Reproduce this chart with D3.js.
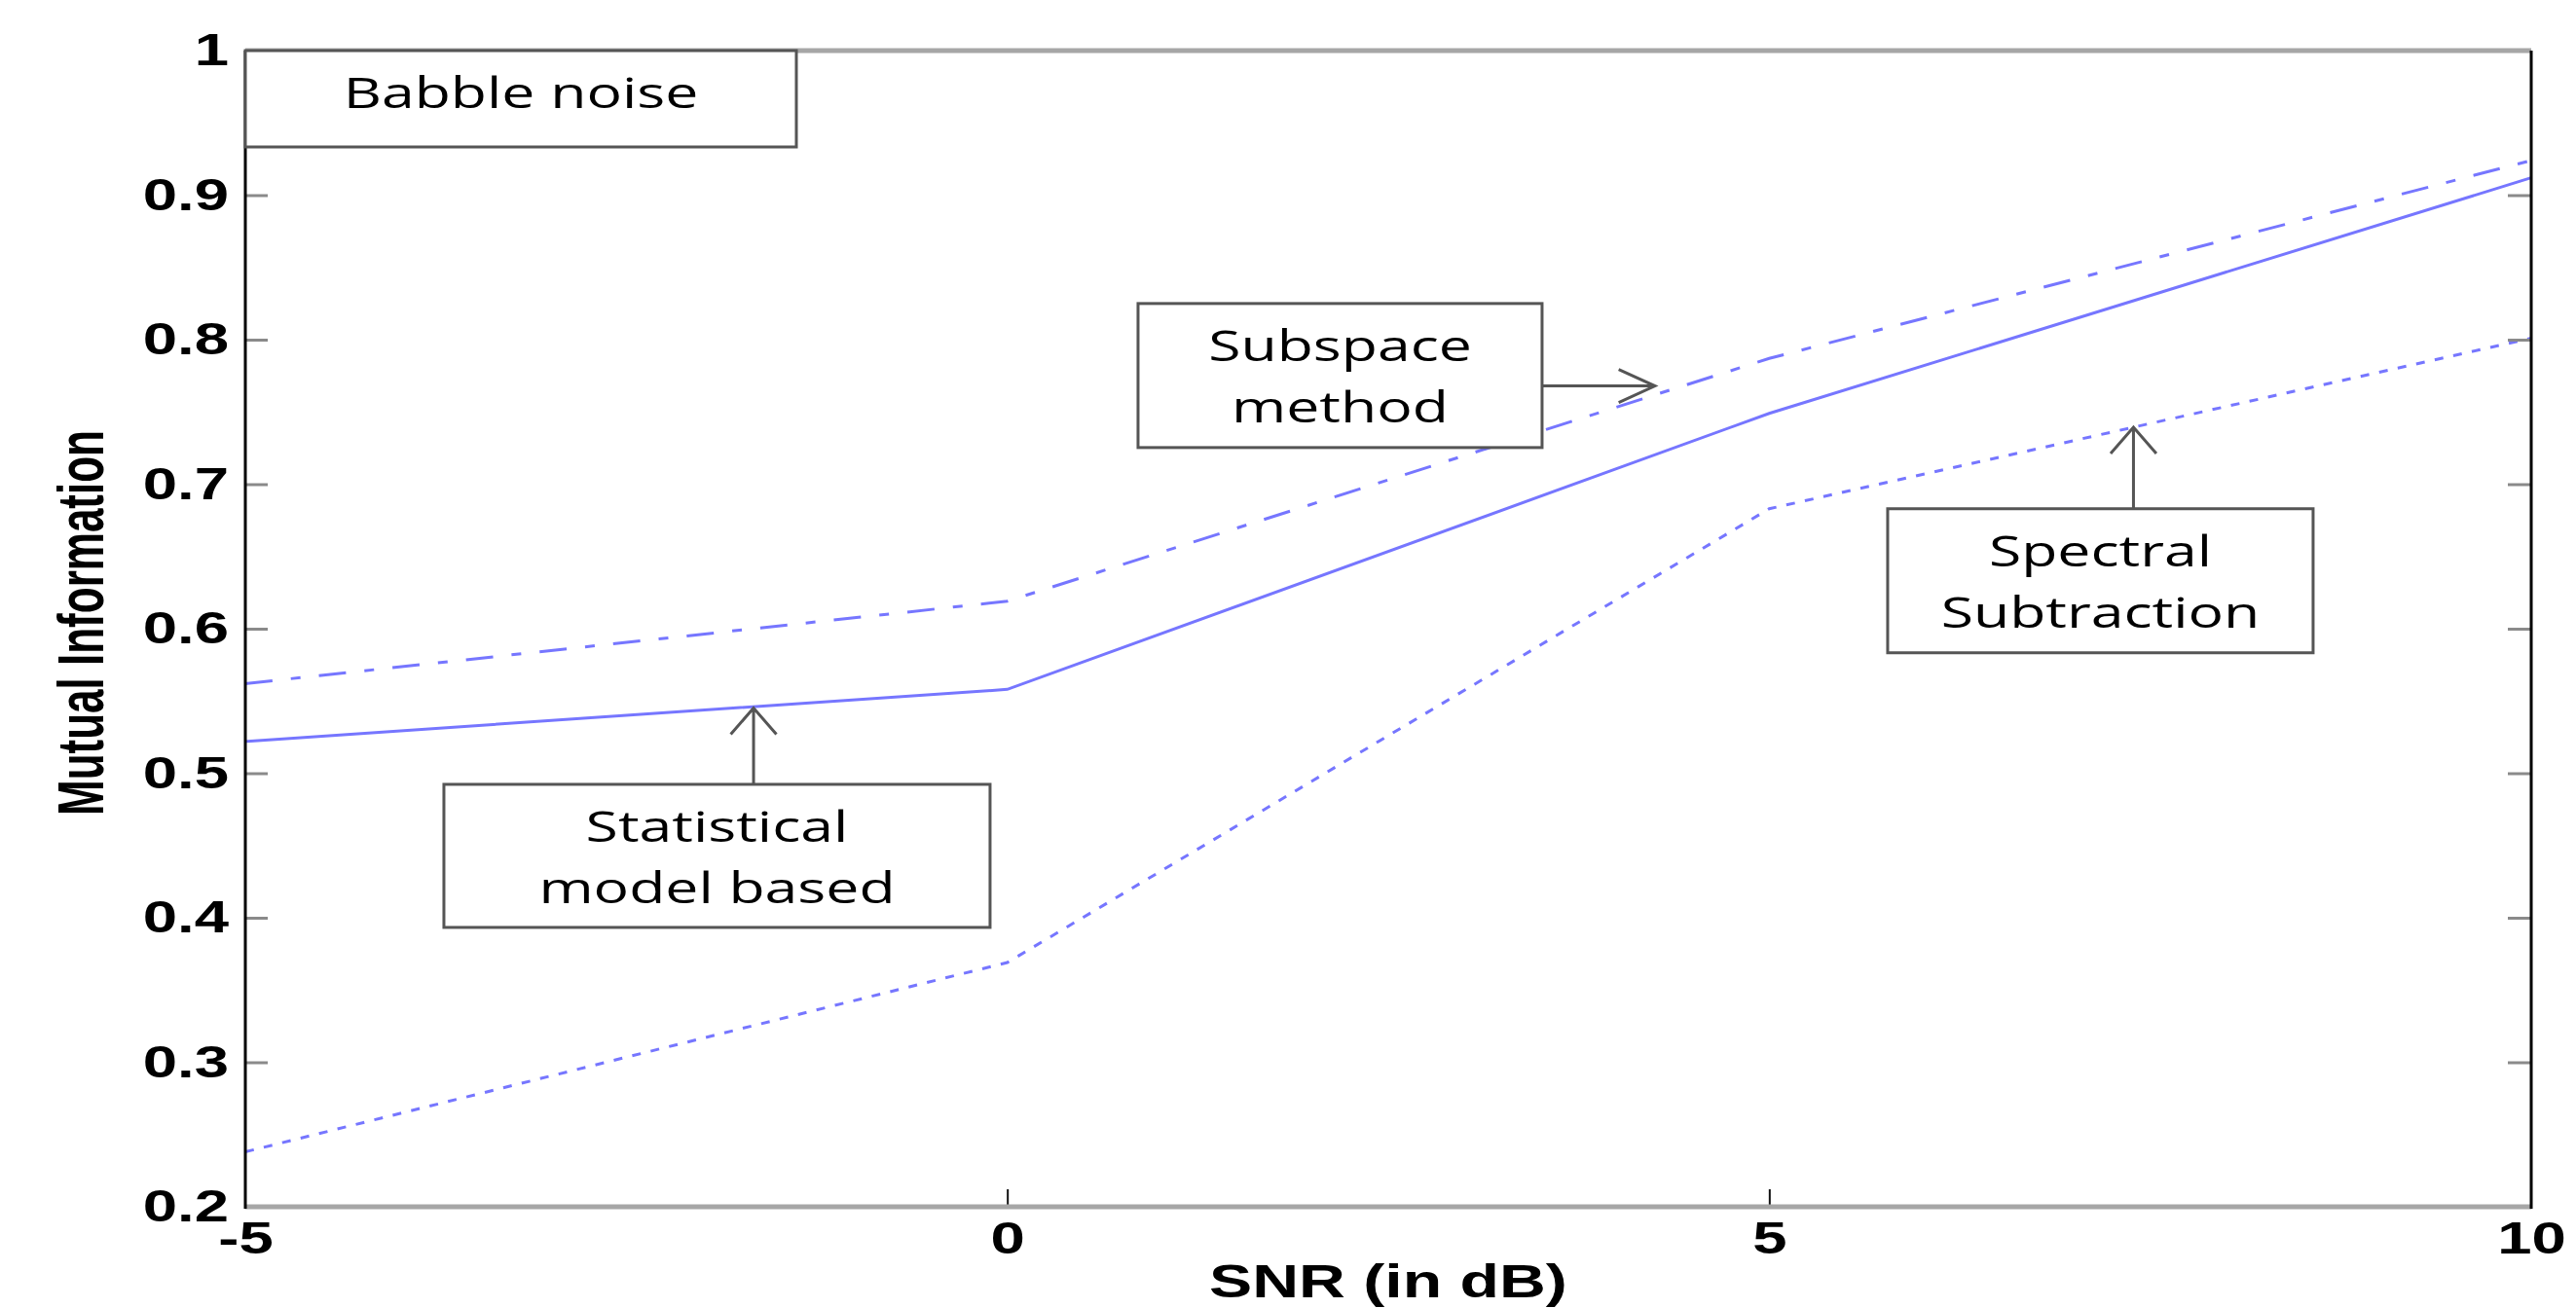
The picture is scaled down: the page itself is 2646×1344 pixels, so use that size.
<!DOCTYPE html>
<html>
<head>
<meta charset="utf-8">
<script src="https://cdn.jsdelivr.net/npm/d3@7"></script>
<style>
    html, body { margin: 0; padding: 0; background: #fff; }
    svg { display: block; }
</style>
</head>
<body>
<svg id="chart"></svg>
<script>
const width = 2646
const height = 1344

// values, one per snr step
const snr = [-5, 0, 5, 10]
const statistical = [0.522, 0.558, 0.749, 0.912]
const subspace = [0.562, 0.619, 0.787, 0.924]
const spectral = [0.238, 0.369, 0.683, 0.801]

const xTicks = [-5, 0, 5, 10]
const yTicks = [0.2, 0.3, 0.4, 0.5, 0.6, 0.7, 0.8, 0.9, 1]

const xTitle = "SNR (in dB)"
const yTitle = "Mutual Information"
const noiseLabel = ["Babble noise"]
const statisticalLabel = ["Statistical", "model based"]
const subspaceLabel = ["Subspace", "method"]
const spectralLabel = ["Spectral", "Subtraction"]

createChart()

function createChart() {

    //the source picture is stretched sideways, so all text gets widened by this
    const stretch = 1.38
    const margin = {top: 52, right: 46, bottom: 104, left: 252}
    const tickFont = "bold 46px 'Liberation Sans', Arial, sans-serif"
    const noteFont = "44px 'Open Sans', 'Noto Sans', sans-serif"
    const lineColour = "#7676ff"

    const x = d3.scaleLinear()
        .domain([-5, 10])
        .range([margin.left, width - margin.right])

    const y = d3.scaleLinear()
        .domain([0.2, 1])
        .range([height - margin.bottom, margin.top])

    const [x0, x1] = x.range()
    const [y0, y1] = y.range()

    const svg = d3.select('#chart')
        .attr("width", width)
        .attr("height", height)
        .attr("viewBox", [0, 0, width, height])

    svg.append("rect")
        .attr("width", width)
        .attr("height", height)
        .attr("fill", "#fff")

    let series = [
        {name: "statistical", values: statistical, dash: null},
        {name: "subspace", values: subspace, dash: "28,19,10,19"},
        {name: "spectral", values: spectral, dash: "9,10.5"}
    ]

    const line = d3.line()
        .x(d => x(d[0]))
        .y(d => y(d[1]))

    svg.append("g")
        .attr("class", "lines")
        .selectAll("path")
        .data(series)
        .join("path")
        .attr("d", s => line(snr.map((v, i) => [v, s.values[i]])))
        .attr("fill", "none")
        .attr("stroke", lineColour)
        .attr("stroke-width", 3)
        .attr("stroke-dasharray", s => s.dash)

    // inner tick marks, left / right / bottom
    let leftTicks = svg.append("g")
        .attr("transform", `translate(${x0}, 0)`)
        .call(d3.axisLeft(y).tickValues(yTicks.slice(1, -1)).tickSize(-23).tickFormat(""))
    let rightTicks = svg.append("g")
        .attr("transform", `translate(${x1}, 0)`)
        .call(d3.axisRight(y).tickValues(yTicks.slice(1, -1)).tickSize(-24).tickFormat(""))
    let bottomTicks = svg.append("g")
        .attr("transform", `translate(0, ${y0})`)
        .call(d3.axisBottom(x).tickValues(xTicks.slice(1, -1)).tickSize(-18).tickFormat(""))

    ;[leftTicks, rightTicks, bottomTicks].forEach(g => g.select(".domain").remove())
    leftTicks.selectAll("line").attr("stroke", "#8a8a8a").attr("stroke-width", 3)
    rightTicks.selectAll("line").attr("stroke", "#8a8a8a").attr("stroke-width", 3)
    bottomTicks.selectAll("line").attr("stroke", "#111").attr("stroke-width", 2)

    // tick labels
    let yAxis = svg.append("g")
        .attr("transform", `translate(${x0}, 0)`)
        .call(d3.axisLeft(y).tickValues(yTicks).tickSize(0)
            .tickFormat(d => d === 1 ? "1" : d.toFixed(1)))
    yAxis.select(".domain").remove()
    yAxis.selectAll("text")
        .attr("x", 0)
        .attr("transform", `translate(-17, 0) scale(${stretch}, 1)`)
        .attr("fill", "#000")
        .style("font", tickFont)

    let xAxis = svg.append("g")
        .attr("transform", `translate(0, ${y0})`)
        .call(d3.axisBottom(x).tickValues(xTicks).tickSize(0).tickFormat(d => String(d)))
    xAxis.select(".domain").remove()
    xAxis.selectAll("text")
        .attr("y", 0)
        .attr("dy", 0)
        .attr("transform", `translate(0, 48) scale(${stretch}, 1)`)
        .attr("fill", "#000")
        .style("font", tickFont)

    // frame: sides are dark, top and bottom come out grey in the source
    const frame = svg.append("g").attr("class", "frame")
    frame.append("line").attr("x1", x0).attr("x2", x1).attr("y1", y1).attr("y2", y1)
        .attr("stroke", "#a6a6a6").attr("stroke-width", 5)
    frame.append("line").attr("x1", x0).attr("x2", x1).attr("y1", y0).attr("y2", y0)
        .attr("stroke", "#a6a6a6").attr("stroke-width", 5)
    frame.append("line").attr("x1", x0).attr("x2", x0).attr("y1", y1).attr("y2", y0 + 2)
        .attr("stroke", "#000").attr("stroke-width", 3)
    frame.append("line").attr("x1", x1).attr("x2", x1).attr("y1", y1).attr("y2", y0 + 2)
        .attr("stroke", "#000").attr("stroke-width", 3)

    // axis titles
    svg.append("text")
        .attr("transform", `translate(${(x0 + x1) / 2}, 1333) scale(${stretch}, 1)`)
        .attr("text-anchor", "middle")
        .style("font", "bold 48px 'Liberation Sans', Arial, sans-serif")
        .text(xTitle)

    svg.append("text")
        .attr("transform", `translate(106, ${(y0 + y1) / 2 - 6}) scale(${stretch}, 1) rotate(-90)`)
        .attr("text-anchor", "middle")
        .attr("textLength", 396)
        .attr("lengthAdjust", "spacingAndGlyphs")
        .style("font", "bold 48px 'Liberation Sans', Arial, sans-serif")
        .text(yTitle)

    // annotation boxes, placed in data units, sized in pixels
    let notes = [
        {lines: noiseLabel, x: -5, y: 1.0, w: 566, h: 99},
        {lines: subspaceLabel, x: 0.858, y: 0.825, w: 415, h: 148, tip: [4.25, 0.768], dir: "right"},
        {lines: spectralLabel, x: 5.777, y: 0.683, w: 437, h: 148, tip: [7.39, 0.7394], dir: "up"},
        {lines: statisticalLabel, x: -3.697, y: 0.4923, w: 561, h: 147, tip: [-1.665, 0.5451], dir: "up"}
    ]

    const arm = 27
    const half = 17

    notes.forEach(n => {
        const bx = x(n.x)
        const by = y(n.y)
        const g = svg.append("g").attr("class", "note")

        if (n.tip) {
            const tx = x(n.tip[0])
            const ty = y(n.tip[1])
            let start, arms
            if (n.dir === "up") {
                start = [tx, by]
                arms = [[tx - half * stretch, ty + arm], [tx + half * stretch, ty + arm]]
            } else {
                start = [bx + n.w, ty]
                arms = [[tx - arm * stretch, ty - half], [tx - arm * stretch, ty + half]]
            }
            g.append("path")
                .attr("d", `M${start}L${tx},${ty}M${arms[0]}L${tx},${ty}L${arms[1]}`)
                .attr("fill", "none")
                .attr("stroke", "#555")
                .attr("stroke-width", 3)
        }

        g.append("rect")
            .attr("x", bx)
            .attr("y", by)
            .attr("width", n.w)
            .attr("height", n.h)
            .attr("fill", "#fff")
            .attr("stroke", "#555")
            .attr("stroke-width", 3)

        n.lines.forEach((t, i) => {
            g.append("text")
                .attr("transform", `translate(${bx + n.w / 2}, ${by + 59 + i * 63}) scale(${stretch}, 1)`)
                .attr("text-anchor", "middle")
                .attr("fill", "#000")
                .style("font", noteFont)
                .style("font-weight", 500)
                .text(t)
        })
    })
}
</script>
</body>
</html>
